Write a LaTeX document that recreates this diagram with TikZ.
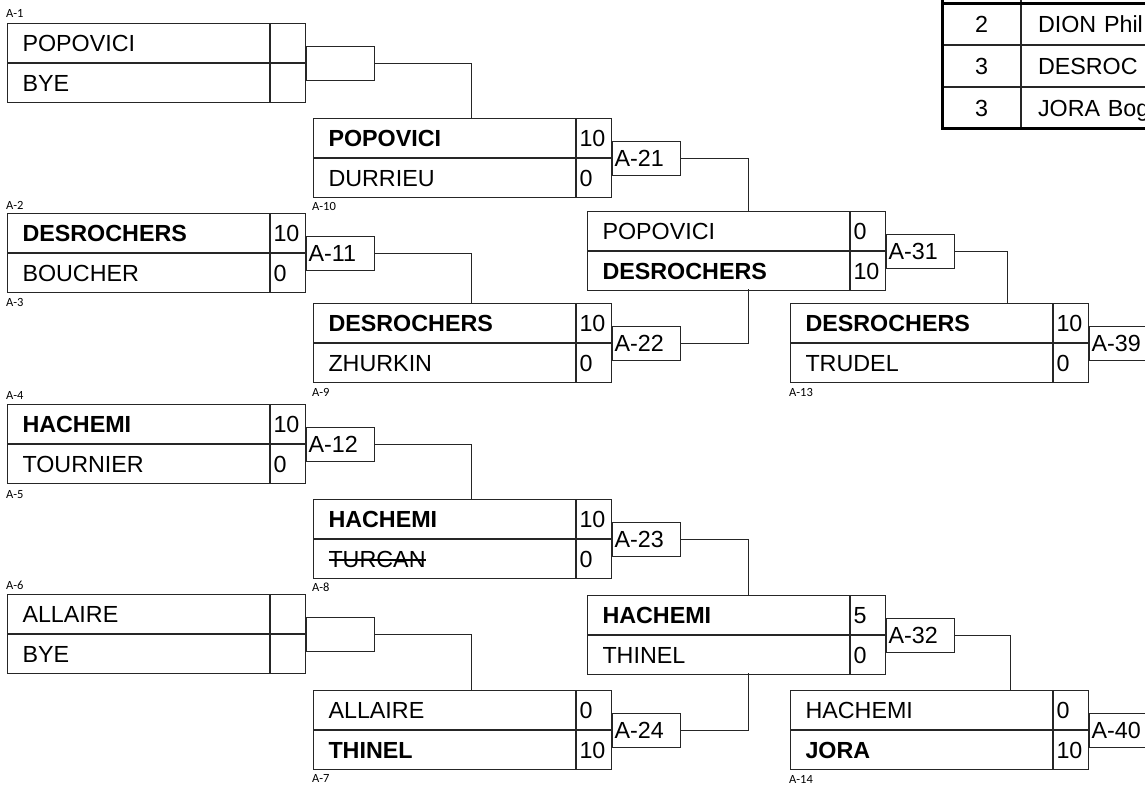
\documentclass[tikz,border=0pt]{standalone}
\usepackage{fontspec}
\setmainfont{Liberation Sans}
\newfontfamily\petitfont{Carlito}
\newcommand{\barre}[1]{\setbox0\hbox{#1}\rlap{\vrule height 7.8pt depth -6.4pt width \wd0}\box0}

\begin{document}
\begin{tikzpicture}[x=1pt, y=-1pt,
    every node/.style={font=\fontsize{23.3}{28}\selectfont},
    nom/.style={draw=black!85, line width=1pt, anchor=north west, minimum height=39pt,
        text width=232pt, inner xsep=15pt, inner ysep=0pt, align=left, text height=16.5pt, text depth=0pt},
    score/.style={draw=black!85, line width=1pt, anchor=north west, minimum height=39pt,
        text width=29pt, inner xsep=3pt, inner ysep=0pt, align=left, text height=16.5pt, text depth=0pt},
    etiq/.style={draw=black!85, line width=1pt, anchor=west, minimum height=34pt,
        text width=64pt, inner xsep=2pt, inner ysep=0pt, align=left, text height=16.5pt, text depth=0pt},
    petit/.style={font=\petitfont\fontsize{12.5}{14}\selectfont, anchor=base west, inner sep=0pt},
    lien/.style={draw=black!85, line width=1pt},
    rang/.style={draw=black!85, line width=1pt, minimum width=77pt, minimum height=40.7pt,
        inner sep=0pt, text height=16.5pt, text depth=0pt},
    joueur/.style={draw=black!85, line width=1pt, anchor=north west, minimum height=40.7pt,
        text width=250pt, inner xsep=17pt, inner ysep=0pt, align=left, text height=16.5pt, text depth=0pt}]
    \useasboundingbox (0,0) rectangle (1145,785);
    \clip (0,0) rectangle (1145,785);

    % Premier tour
    \node[nom] (n1a) at (7,23) {POPOVICI};
    \node[nom] (n1b) at (n1a.south west) {BYE};
    \node[score] (s1a) at (n1a.north east) {};
    \node[score] (s1b) at (n1b.north east) {};
    \node[etiq] (e1) at (s1a.south east) {};
    \node[petit] (t1) at (6,17) {A-1};

    \node[nom] (n2a) at (7,213) {\bfseries DESROCHERS};
    \node[nom] (n2b) at (n2a.south west) {BOUCHER};
    \node[score] (s2a) at (n2a.north east) {10};
    \node[score] (s2b) at (n2b.north east) {0};
    \node[etiq] (a11) at (s2a.south east) {A-11};
    \node[petit] (t2) at (6,209) {A-2};
    \node[petit] (t3) at (6,306) {A-3};

    \node[nom] (n3a) at (7,404) {\bfseries HACHEMI};
    \node[nom] (n3b) at (n3a.south west) {TOURNIER};
    \node[score] (s3a) at (n3a.north east) {10};
    \node[score] (s3b) at (n3b.north east) {0};
    \node[etiq] (a12) at (s3a.south east) {A-12};
    \node[petit] (t4) at (6,399) {A-4};
    \node[petit] (t5) at (6,498) {A-5};

    \node[nom] (n4a) at (7,594) {ALLAIRE};
    \node[nom] (n4b) at (n4a.south west) {BYE};
    \node[score] (s4a) at (n4a.north east) {};
    \node[score] (s4b) at (n4b.north east) {};
    \node[etiq] (e6) at (s4a.south east) {};
    \node[petit] (t6) at (6,589) {A-6};

    % Deuxieme tour
    \node[nom] (n10a) at (313,118) {\bfseries POPOVICI};
    \node[nom] (n10b) at (n10a.south west) {DURRIEU};
    \node[score] (s10a) at (n10a.north east) {10};
    \node[score] (s10b) at (n10b.north east) {0};
    \node[etiq] (a21) at (s10a.south east) {A-21};
    \node[petit] (t10) at (312,210) {A-10};

    \node[nom] (n9a) at (313,303) {\bfseries DESROCHERS};
    \node[nom] (n9b) at (n9a.south west) {ZHURKIN};
    \node[score] (s9a) at (n9a.north east) {10};
    \node[score] (s9b) at (n9b.north east) {0};
    \node[etiq] (a22) at (s9a.south east) {A-22};
    \node[petit] (t9) at (312,396) {A-9};

    \node[nom] (n8a) at (313,499) {\bfseries HACHEMI};
    \node[nom] (n8b) at (n8a.south west) {\barre{TURCAN}};
    \node[score] (s8a) at (n8a.north east) {10};
    \node[score] (s8b) at (n8b.north east) {0};
    \node[etiq] (a23) at (s8a.south east) {A-23};
    \node[petit] (t8) at (312,591) {A-8};

    \node[nom] (n7a) at (313,690) {ALLAIRE};
    \node[nom] (n7b) at (n7a.south west) {\bfseries THINEL};
    \node[score] (s7a) at (n7a.north east) {0};
    \node[score] (s7b) at (n7b.north east) {10};
    \node[etiq] (a24) at (s7a.south east) {A-24};
    \node[petit] (t7) at (312,782) {A-7};

    % Troisieme tour
    \node[nom] (n31a) at (587,211) {POPOVICI};
    \node[nom] (n31b) at (n31a.south west) {\bfseries DESROCHERS};
    \node[score] (s31a) at (n31a.north east) {0};
    \node[score] (s31b) at (n31b.north east) {10};
    \node[etiq] (a31) at (s31a.south east) {A-31};

    \node[nom] (n32a) at (587,595) {\bfseries HACHEMI};
    \node[nom] (n32b) at (n32a.south west) {THINEL};
    \node[score] (s32a) at (n32a.north east) {5};
    \node[score] (s32b) at (n32b.north east) {0};
    \node[etiq] (a32) at (s32a.south east) {A-32};

    % Repechage
    \node[nom] (n13a) at (790,303) {\bfseries DESROCHERS};
    \node[nom] (n13b) at (n13a.south west) {TRUDEL};
    \node[score] (s13a) at (n13a.north east) {10};
    \node[score] (s13b) at (n13b.north east) {0};
    \node[etiq] (a39) at (s13a.south east) {A-39};
    \node[petit] (t13) at (789,396) {A-13};

    \node[nom] (n14a) at (790,690) {HACHEMI};
    \node[nom] (n14b) at (n14a.south west) {\bfseries JORA};
    \node[score] (s14a) at (n14a.north east) {0};
    \node[score] (s14b) at (n14b.north east) {10};
    \node[etiq] (a40) at (s14a.south east) {A-40};
    \node[petit] (t14) at (789,783) {A-14};

    % Liaisons
    \coordinate (c10) at (471,118);
    \coordinate (c9) at (471,303);
    \coordinate (c8) at (471,499);
    \coordinate (c7) at (471,690);
    \coordinate (c21) at (748,211);
    \coordinate (c22) at (748,289);
    \coordinate (c23) at (748,595);
    \coordinate (c24) at (748,673);
    \coordinate (c31) at (1007,303);
    \coordinate (c32) at (1010,690);
    \draw[lien] (e1.east) -| (c10);
    \draw[lien] (a11.east) -| (c9);
    \draw[lien] (a12.east) -| (c8);
    \draw[lien] (e6.east) -| (c7);
    \draw[lien] (a21.east) -| (c21);
    \draw[lien] (a22.east) -| (c22);
    \draw[lien] (a23.east) -| (c23);
    \draw[lien] (a24.east) -| (c24);
    \draw[lien] (a31.east) -| (c31);
    \draw[lien] (a32.east) -| (c32);

    % Classement
    \node[rang] (r0) at (981.5,-16.35) {};
    \node[joueur] (j0) at (r0.north east) {};
    \node[rang] (r1) at (981.5,24.35) {2};
    \node[joueur] (j1) at (r1.north east) {DION Phil};
    \node[rang] (r2) at (r1.south) [anchor=north] {3};
    \node[joueur] (j2) at (r2.north east) {DESROC};
    \node[rang] (r3) at (r2.south) [anchor=north] {3};
    \node[joueur] (j3) at (r3.north east) {JORA Bog};
    \draw[line width=2.6pt] (r0.north west) -- (r3.south west) -- (j3.south east);
    \draw[line width=2.6pt] (r1.north west) -- (j1.north east);
\end{tikzpicture}
\end{document}
